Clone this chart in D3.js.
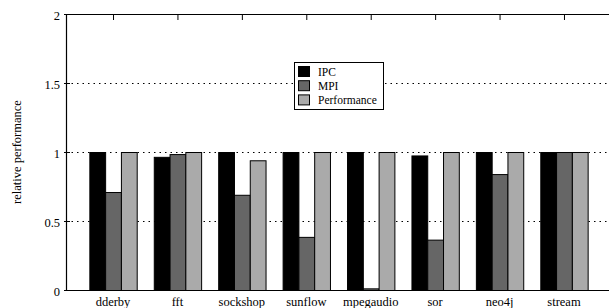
<!DOCTYPE html>
<html>
<head>
<meta charset="utf-8">
<script src="https://cdn.jsdelivr.net/npm/d3@7"></script>
<style>
  body { margin: 0; background: #fff; }
  #chart text { font-family: "Liberation Serif", serif; }
</style>
</head>
<body>
<svg id="chart" width="609" height="308"></svg>
<script>
   var benchmarks = ["dderby", "fft", "sockshop", "sunflow", "mpegaudio", "sor", "neo4j", "stream"];
   var seriesNames = ["IPC", "MPI", "Performance"];
   var seriesColors = ["#000000", "#666666", "#aaaaaa"];
   var ipcValues = [1.0, 0.965, 1.0, 1.0, 1.0, 0.975, 1.0, 1.0];
   var mpiValues = [0.71, 0.985, 0.69, 0.385, 0.012, 0.365, 0.84, 1.0];
   var perfValues = [1.0, 1.0, 0.94, 1.0, 1.0, 1.0, 1.0, 1.0];
   var yTicks = [0, 0.5, 1, 1.5, 2];
   var gridTicks = [0.5, 1, 1.5];

   var svg = d3.select("#chart");
   var plotLeft = 66, plotRight = 611, plotTop = 14, plotBottom = 290;

   var x = d3.scaleLinear().domain([-0.73, 7.73]).range([plotLeft, plotRight]);
   var y = d3.scaleLinear().domain([0, 2]).range([plotBottom, plotTop]);
   var barW = 0.245;

   // dotted grid lines
   svg.append("g")
      .selectAll("line")
      .data(gridTicks)
      .enter()
      .append("line")
      .attr("x1", plotLeft).attr("x2", plotRight)
      .attr("y1", function(d){ return y(d) + 0.5; })
      .attr("y2", function(d){ return y(d) + 0.5; })
      .attr("stroke", "#000")
      .attr("stroke-width", 1)
      .attr("stroke-dasharray", "1.5,4");

   var rows = [];
   benchmarks.forEach(function(b, i) {
      [ipcValues[i], mpiValues[i], perfValues[i]].forEach(function(v, s) {
         rows.push({ bench: b, idx: i, series: s, value: v });
      });
   });

   svg.append("g")
      .selectAll("rect")
      .data(rows)
      .enter()
      .append("rect")
      .attr("x", function(d){ return x(d.idx + (d.series - 1.5) * barW) + 0.5; })
      .attr("y", function(d){ return y(d.value) + 0.5; })
      .attr("width", x(barW) - x(0))
      .attr("height", function(d){ return plotBottom - y(d.value); })
      .attr("fill", function(d){ return seriesColors[d.series]; })
      .attr("stroke", "#000")
      .attr("stroke-width", 1);

   // border
   var border = svg.append("g").attr("stroke", "#000").attr("stroke-width", 1.2);
   border.append("line").attr("x1", plotLeft).attr("x2", plotRight).attr("y1", plotTop + 0.5).attr("y2", plotTop + 0.5);
   border.append("line").attr("x1", plotLeft).attr("x2", plotRight).attr("y1", plotBottom + 0.5).attr("y2", plotBottom + 0.5);
   border.append("line").attr("x1", plotLeft + 0.5).attr("x2", plotLeft + 0.5).attr("y1", plotTop).attr("y2", plotBottom + 1);

   // ticks on top edge at each category
   svg.append("g")
      .selectAll("line")
      .data(benchmarks)
      .enter()
      .append("line")
      .attr("x1", function(d, i){ return x(i) + 0.5; })
      .attr("x2", function(d, i){ return x(i) + 0.5; })
      .attr("y1", plotTop).attr("y2", plotTop + 6)
      .attr("stroke", "#000");

   // y ticks and labels
   var yAxis = svg.append("g");
   yAxis.selectAll("line")
      .data(yTicks)
      .enter()
      .append("line")
      .attr("x1", plotLeft - 2).attr("x2", plotLeft + 4)
      .attr("y1", function(d){ return y(d) + 0.5; })
      .attr("y2", function(d){ return y(d) + 0.5; })
      .attr("stroke", "#000");
   yAxis.selectAll("text")
      .data(yTicks)
      .enter()
      .append("text")
      .attr("x", 60)
      .attr("y", function(d){ return y(d) + 6; })
      .attr("text-anchor", "end")
      .attr("font-size", 12.5)
      .text(function(d){ return d3.format("")(d); });

   // category labels
   svg.append("g")
      .selectAll("text")
      .data(benchmarks)
      .enter()
      .append("text")
      .attr("x", function(d, i){ return x(i); })
      .attr("y", 306)
      .attr("text-anchor", "middle")
      .attr("font-size", 12.5)
      .text(function(d){ return d; });

   svg.append("text")
      .attr("transform", "translate(21,152) rotate(-90)")
      .attr("text-anchor", "middle")
      .attr("font-size", 12.5)
      .text("relative performance");

   // legend
   var legend = svg.append("g").attr("transform", "translate(294,62)");
   legend.append("rect")
      .attr("x", 0.5).attr("y", 0.5)
      .attr("width", 89).attr("height", 47)
      .attr("fill", "#fff")
      .attr("stroke", "#000");
   var item = legend.selectAll(".item")
      .data(seriesNames)
      .enter()
      .append("g")
      .attr("transform", function(d, i){ return "translate(0," + (4 + i * 14.2) + ")"; });
   item.append("rect")
      .attr("x", 4.5).attr("y", 0.5)
      .attr("width", 11).attr("height", 10)
      .attr("fill", function(d, i){ return seriesColors[i]; })
      .attr("stroke", "#000");
   item.append("text")
      .attr("x", 24)
      .attr("y", 10)
      .attr("font-size", 11.5)
      .text(function(d){ return d; });
</script>
</body>
</html>
